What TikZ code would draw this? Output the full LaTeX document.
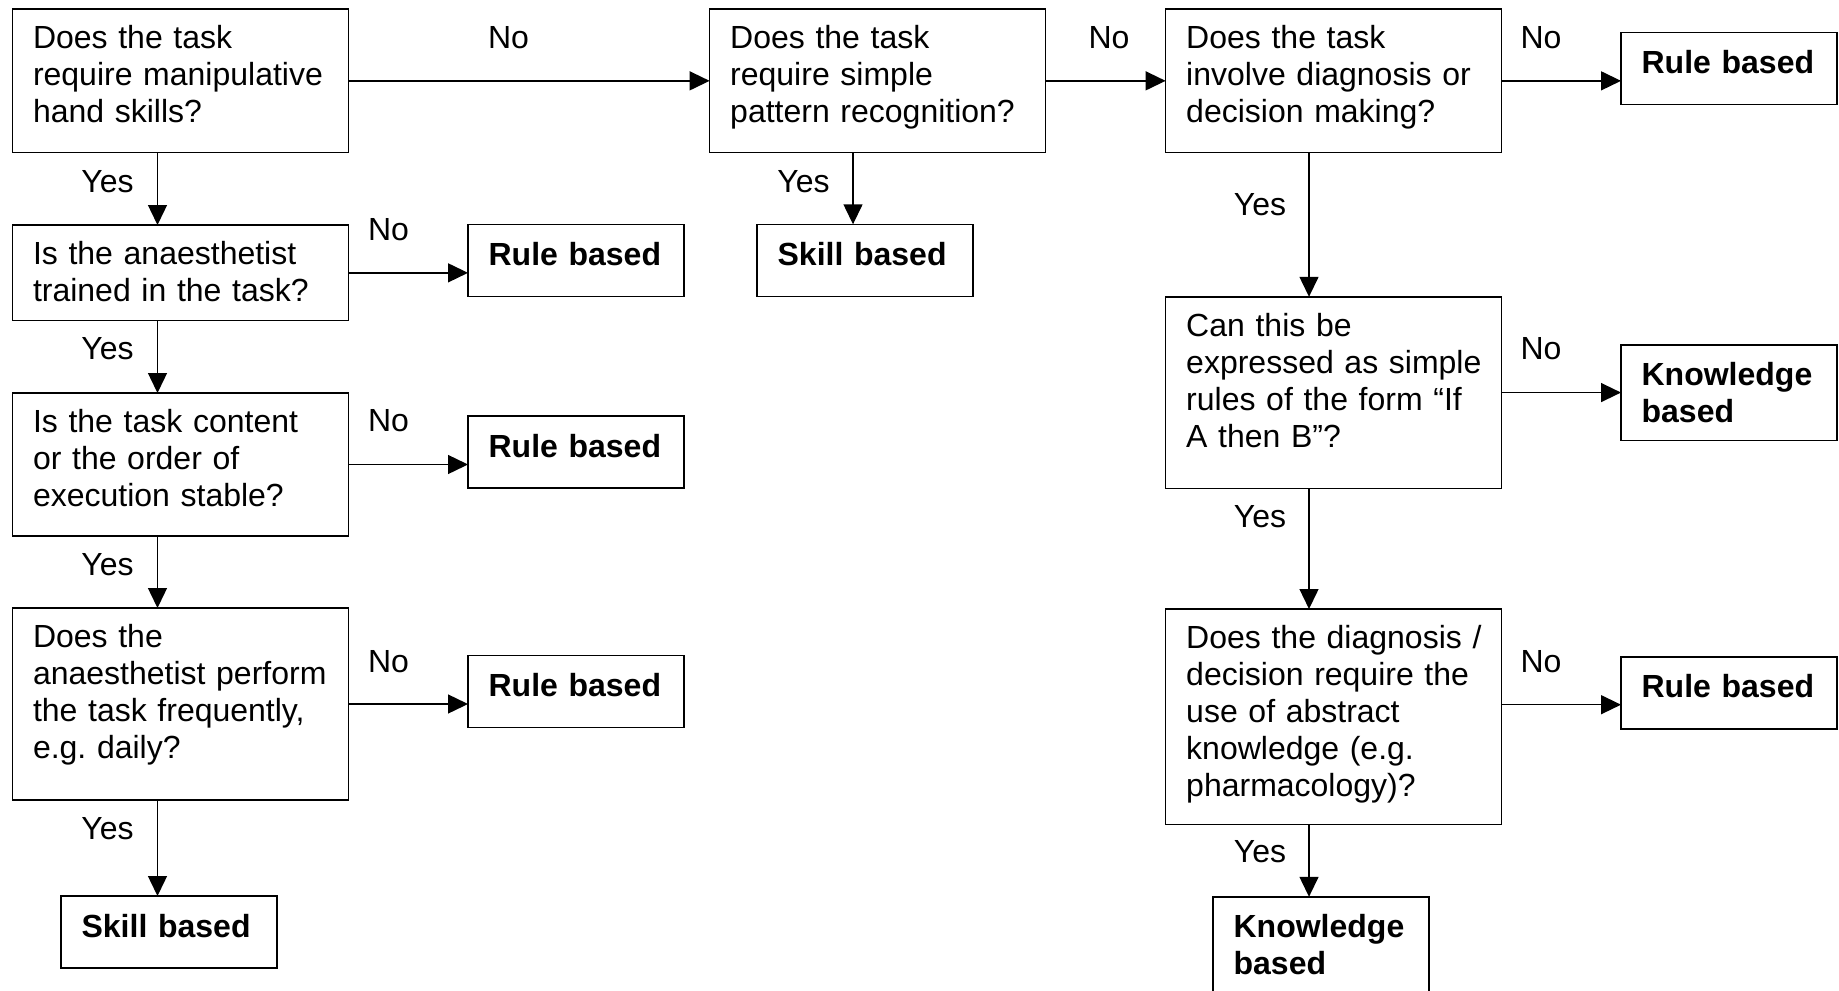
\documentclass[tikz,border=0pt]{standalone}
\usepackage{fontspec}
\setmainfont{Liberation Sans}
\usetikzlibrary{positioning,arrows.meta}

\begin{document}
\begin{tikzpicture}[
    x=0.5pt, y=-0.5pt,
    box/.style={draw, line width=0.7pt, anchor=north west, outer sep=0pt, inner sep=0pt, align=left, execute at begin node={\leftskip=10.3pt}, font=\fontsize{16pt}{18.5pt}\selectfont},
    question/.style={box, text width=168pt, text height=19.7pt},
    result/.style={box, text width=108pt, text height=20.5pt, font=\fontsize{16pt}{18.5pt}\selectfont\bfseries},
    arrow/.style={-{Triangle[length=10pt, width=9.5pt]}, line width=0.7pt},
    answer/.style={anchor=base, font=\fontsize{16pt}{18.5pt}\selectfont}
]
\useasboundingbox (0,0) rectangle (1839,990);

% Left column: manual tasks
\node[question, text depth=52.15pt] (hand) at (12.4,9) {Does the task\\require manipulative\\hand skills?};
\node[question, text depth=28.15pt] (trained) at (12.4,225) {Is the anaesthetist\\trained in the task?};
\node[question, text depth=51.8pt] (stable) at (12.4,393) {Is the task content\\or the order of\\execution stable?};
\node[question, text depth=76.3pt] (frequent) at (12.4,608) {Does the\\anaesthetist perform\\the task frequently,\\e.g.\ daily?};
\node[result, text depth=15.5pt] (skillA) at (61,896) {Skill based};

\node[result, text depth=15.5pt] (ruleA) at (468,224.5) {Rule based};
\node[result, text depth=15.5pt] (ruleB) at (468,416) {Rule based};
\node[result, text depth=15.5pt] (ruleC) at (468,655.6) {Rule based};

% Middle column
\node[question, text depth=52.15pt] (pattern) at (709.6,9) {Does the task\\require simple\\pattern recognition?};
\node[result, text depth=15.5pt] (skillB) at (757,224.3) {Skill based};

% Right column: diagnosis and decisions
\node[question, text depth=52.15pt] (diagnosis) at (1165.6,9) {Does the task\\involve diagnosis or\\decision making?};
\node[result, text depth=15.5pt] (ruleD) at (1621,32.3) {Rule based};
\node[question, text depth=76.05pt] (rules) at (1165.6,296.8) {Can this be\\expressed as simple\\rules of the form “If\\A then B”?};
\node[result, text depth=27.25pt] (knowA) at (1621,344.8) {Knowledge\\based};
\node[question, text depth=88pt] (abstract) at (1165.6,609) {Does the diagnosis /\\decision require the\\use of abstract\\knowledge (e.g.\\pharmacology)?};
\node[result, text depth=15.5pt] (ruleE) at (1621,656.8) {Rule based};
\node[result, text depth=27.25pt] (knowB) at (1213,896.8) {Knowledge\\based};

% Columns of the Yes arrows
\coordinate (colA) at (157.5,0);
\coordinate (colB) at (853,0);
\coordinate (colC) at (1309,0);

% No arrows
\draw[arrow] (hand) -- (pattern);
\draw[arrow] (pattern) -- (diagnosis);
\draw[arrow] (diagnosis.east) -- (diagnosis.east -| ruleD.west);
\draw[arrow] (trained.east) -- (trained.east -| ruleA.west);
\draw[arrow] (stable.east) -- (stable.east -| ruleB.west);
\draw[arrow] (frequent.east) -- (frequent.east -| ruleC.west);
\draw[arrow] (rules) -- (knowA);
\draw[arrow] ([yshift=6pt]abstract.east) -- ([yshift=6pt]abstract.east -| ruleE.west);

% Yes arrows
\draw[arrow] (hand.south -| colA) -- (trained.north -| colA);
\draw[arrow] (trained.south -| colA) -- (stable.north -| colA);
\draw[arrow] (stable.south -| colA) -- (frequent.north -| colA);
\draw[arrow] (frequent.south -| colA) -- (skillA.north -| colA);
\draw[arrow] (pattern.south -| colB) -- (skillB.north -| colB);
\draw[arrow] (diagnosis.south -| colC) -- (rules.north -| colC);
\draw[arrow] (rules.south -| colC) -- (abstract.north -| colC);
\draw[arrow] (abstract.south -| colC) -- (knowB.north -| colC);

% Labels
\node[answer] (noHand) at (508.5,48.5) {No};
\node[answer] (noPattern) at (1109,48.5) {No};
\node[answer] (noDiagnosis) at (1541,48.5) {No};
\node[answer] (noTrained) at (388.5,240.5) {No};
\node[answer] (noStable) at (388.5,431.5) {No};
\node[answer] (noFrequent) at (388.5,672) {No};
\node[answer] (noRules) at (1541,359) {No};
\node[answer] (noAbstract) at (1541,672) {No};
\node[answer] (yesHand) at (107.5,192) {Yes};
\node[answer] (yesTrained) at (107.5,359.5) {Yes};
\node[answer] (yesStable) at (107.5,575) {Yes};
\node[answer] (yesFrequent) at (107.5,839) {Yes};
\node[answer] (yesPattern) at (803.5,192) {Yes};
\node[answer] (yesDiagnosis) at (1260,215) {Yes};
\node[answer] (yesRules) at (1260,527) {Yes};
\node[answer] (yesAbstract) at (1260,862.5) {Yes};

\end{tikzpicture}
\end{document}
